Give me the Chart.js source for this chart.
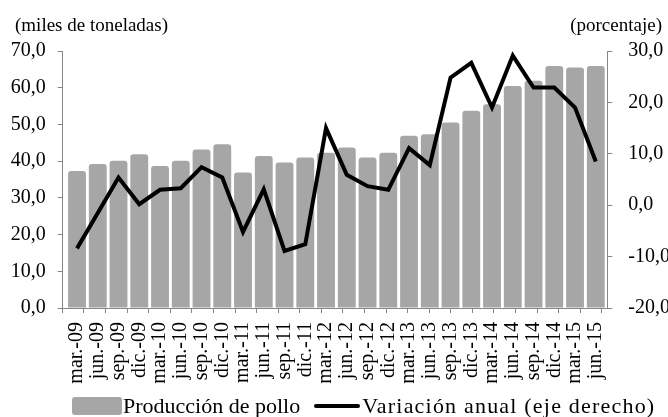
<!DOCTYPE html>
<html>
<head>
<meta charset="utf-8">
<script src="https://cdn.jsdelivr.net/npm/chart.js@4.4.0/dist/chart.umd.min.js"></script>
<style>
html,body{margin:0;padding:0;background:#fff;}
#wrap{position:relative;width:668px;height:417px;overflow:hidden;font-family:"Liberation Serif","Times New Roman",serif;color:#000;}
#c{position:absolute;left:0;top:0;}
.t{position:absolute;white-space:nowrap;line-height:1;}
#legend{position:absolute;left:72px;top:395px;display:flex;align-items:center;white-space:nowrap;font-size:22px;line-height:1;}
.sw-bar{display:inline-block;width:50px;height:18px;background:#a6a6a6;border-radius:3px;}
.sw-line{display:inline-block;width:46px;height:4px;background:#000;border-radius:2px;margin-left:14px;}
</style>
</head>
<body>
<div id="wrap">
  <canvas id="c" width="668" height="417"></canvas>
  <div class="t" style="left:15px;top:15px;font-size:19px;">(miles de toneladas)</div>
  <div class="t" style="right:6px;top:15px;font-size:19px;">(porcentaje)</div>
  <div id="legend">
    <span class="sw-bar"></span><span style="margin-left:1px;">Producción de pollo</span>
    <span class="sw-line"></span><span style="margin-left:2px;letter-spacing:1.2px;">Variación anual (eje derecho)</span>
  </div>
</div>
<script>
const categories = ['mar.-09','jun.-09','sep.-09','dic.-09','mar.-10','jun.-10','sep.-10','dic.-10',
  'mar.-11','jun.-11','sep.-11','dic.-11','mar.-12','jun.-12','sep.-12','dic.-12',
  'mar.-13','jun.-13','sep.-13','dic.-13','mar.-14','jun.-14','sep.-14','dic.-14','mar.-15','jun.-15'];
const produccion = [37.3,39.2,40.1,41.9,38.7,40.1,43.2,44.6,36.9,41.4,39.6,41.0,42.3,43.7,41.0,42.3,
  46.9,47.3,50.5,53.7,55.5,60.5,61.9,65.9,65.5,65.9];
const variacion = [-8.4,-1.5,5.4,0.2,3.0,3.3,7.4,5.4,-5.2,3.1,-8.9,-7.6,15.0,5.9,3.7,3.0,
  11.1,7.8,24.8,27.7,19.0,29.1,22.9,22.9,19.0,8.5];
const leftTicks = [0,10,20,30,40,50,60,70];
const rightTicks = [-20,-10,0,10,20,30];

const fmt = v => Number(v).toFixed(1).replace('.', ',');
const AXIS = '#868686';
const FONT = 'Liberation Serif';

new Chart(document.getElementById('c'), {
  data: {
    datasets: [
      {
        type: 'line',
        label: 'Variación anual (eje derecho)',
        data: variacion.map((v, i) => ({x: i, y: v})),
        xAxisID: 'x',
        yAxisID: 'y1',
        borderColor: '#000',
        borderWidth: 4,
        borderJoinStyle: 'miter',
        pointRadius: 0,
        tension: 0,
        fill: false,
        order: 0
      },
      {
        type: 'bar',
        label: 'Producción de pollo',
        data: produccion.map((v, i) => ({x: i, y: v})),
        xAxisID: 'x',
        yAxisID: 'y',
        backgroundColor: '#a6a6a6',
        borderWidth: 0,
        borderRadius: {topLeft: 3, topRight: 3, bottomLeft: 0, bottomRight: 0},
        borderSkipped: 'bottom',
        barPercentage: 0.86,
        categoryPercentage: 1,
        clip: 0,
        order: 1
      }
    ]
  },
  options: {
    responsive: false,
    animation: false,
    devicePixelRatio: 1,
    layout: {padding: {top: 51, left: 0, right: 0, bottom: 0}},
    plugins: {legend: {display: false}, tooltip: {enabled: false}},
    scales: {
      xt: {
        type: 'linear',
        position: 'bottom',
        min: -0.185, max: 25.05,
        afterBuildTicks: s => { s.ticks = categories.map((_, i) => ({value: i - 0.2})); },
        afterFit: s => { s.height = 0; },
        ticks: {display: false, autoSkip: false},
        grid: {drawOnChartArea: false, drawTicks: true, tickLength: 5, color: AXIS, lineWidth: 1},
        border: {display: true, color: AXIS, width: 1}
      },
      x: {
        type: 'linear',
        position: 'bottom',
        min: -0.185, max: 25.05,
        afterBuildTicks: s => { s.ticks = categories.map((_, i) => ({value: i})); },
        afterFit: s => { s.height = 109; },
        ticks: {
          autoSkip: false, minRotation: 90, maxRotation: 90, padding: 14,
          color: '#000', font: {family: FONT, size: 20},
          callback: v => categories[Math.round(v)]
        },
        grid: {display: true, drawOnChartArea: false, drawTicks: false, color: 'rgba(0,0,0,0)'},
        border: {display: false}
      },
      y: {
        type: 'linear',
        position: 'left',
        min: 0, max: 70,
        afterBuildTicks: s => { s.ticks = leftTicks.map(v => ({value: v})); },
        afterFit: s => { s.width = 62.7; },
        ticks: {padding: 12, color: '#000', font: {family: FONT, size: 20}, callback: fmt},
        grid: {drawOnChartArea: false, drawTicks: true, tickLength: 5, color: AXIS},
        border: {display: true, color: AXIS, width: 1}
      },
      y1: {
        type: 'linear',
        position: 'right',
        min: -20, max: 30,
        afterBuildTicks: s => { s.ticks = rightTicks.map(v => ({value: v})); },
        afterFit: s => { s.width = 60.7; },
        ticks: {padding: 16, color: '#000', font: {family: FONT, size: 20}, callback: fmt},
        grid: {drawOnChartArea: false, drawTicks: true, tickLength: 5, color: AXIS},
        border: {display: true, color: AXIS, width: 1}
      }
    }
  }
});
</script>
</body>
</html>
